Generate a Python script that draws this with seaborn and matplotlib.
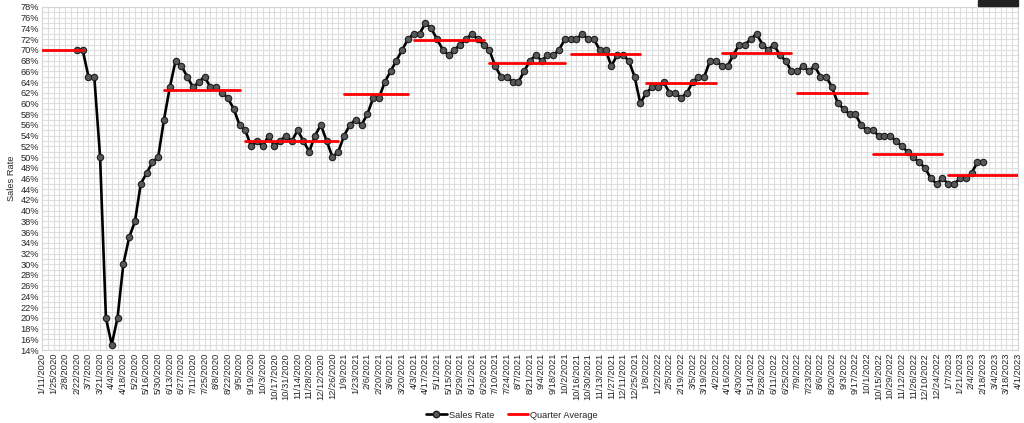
import matplotlib
matplotlib.use('Agg')
import matplotlib.pyplot as plt
import matplotlib.ticker as mticker
from matplotlib.patches import Rectangle
from matplotlib.lines import Line2D
import seaborn as sns
import pandas as pd

# weekly sales rate, first reading on 2/22/2020
first_week = '2020-02-22'
sales_rate = [70, 70, 65, 65, 50, 20, 15, 20, 30, 35, 38, 45, 47, 49, 50, 57, 63, 68, 67, 65,
              63, 64, 65, 63, 63, 62, 61, 59, 56, 55, 52, 53, 52, 54, 52, 53, 54, 53, 55, 53,
              51, 54, 56, 53, 50, 51, 54, 56, 57, 56, 58, 61, 61, 64, 66, 68, 70, 72, 73, 73,
              75, 74, 72, 70, 69, 70, 71, 72, 73, 72, 71, 70, 67, 65, 65, 64, 64, 66, 68, 69,
              68, 69, 69, 70, 72, 72, 72, 73, 72, 72, 70, 70, 67, 69, 69, 68, 65, 60, 62, 63,
              63, 64, 62, 62, 61, 62, 64, 65, 65, 68, 68, 67, 67, 69, 71, 71, 72, 73, 71, 70,
              71, 69, 68, 66, 66, 67, 66, 67, 65, 65, 63, 60, 59, 58, 58, 56, 55, 55, 54, 54,
              54, 53, 52, 51, 50, 49, 48, 46, 45, 46, 45, 45, 46, 46, 47, 49, 49]

# category axis
axis_start = '2020-01-11'
axis_end = '2023-04-01'

# quarter average segments
qtr_start = ['2020-01-11', '2020-06-06', '2020-09-12', '2021-01-09', '2021-04-03', '2021-07-03',
             '2021-10-09', '2022-01-08', '2022-04-09', '2022-07-09', '2022-10-08', '2023-01-07']
qtr_end = ['2020-02-29', '2020-09-05', '2021-01-02', '2021-03-27', '2021-06-26', '2021-10-02',
           '2022-01-01', '2022-04-02', '2022-07-02', '2022-10-01', '2022-12-31', '2023-04-01']
qtr_avg = [70.0, 62.5, 53.0, 61.8, 71.8, 67.5, 69.2, 63.8, 69.5, 61.9, 50.6, 46.7]

sns.set_style('white')
plt.rcParams['font.family'] = ['Liberation Sans', 'DejaVu Sans']

weeks = pd.date_range(first_week, periods=len(sales_rate), freq='7D')
sales = pd.DataFrame({'week': weeks, 'rate': sales_rate})

rows = []
for i, (s, e, v) in enumerate(zip(qtr_start, qtr_end, qtr_avg)):
    rows += [(i, pd.Timestamp(s), v), (i, pd.Timestamp(e), v)]
qdf = pd.DataFrame(rows, columns=['q', 'week', 'avg'])

fig = plt.figure(figsize=(10.24, 4.23), dpi=100)
ax = fig.add_axes([42 / 1024, 1 - 350 / 423, 976 / 1024, 343 / 423])

sns.lineplot(data=sales, x='week', y='rate', ax=ax, color='black', lw=1.9,
             marker='o', markersize=4.6, markerfacecolor='#585858',
             markeredgecolor='#1e1e1e', markeredgewidth=0.8, zorder=3)
sns.lineplot(data=qdf, x='week', y='avg', units='q', estimator=None, ax=ax,
             color='#ff0000', lw=2.0, zorder=4)

major = pd.date_range(axis_start, axis_end, freq='14D')
minor = pd.date_range(axis_start, axis_end, freq='7D')
ax.set_xlim(pd.Timestamp(axis_start), pd.Timestamp(axis_end))
ax.set_xticks(major)
ax.set_xticklabels([f'{d.month}/{d.day}/{d.year}' for d in major], rotation=90, fontsize=6.7)
ax.set_xticks(minor, minor=True)

ax.set_ylim(14, 78)
ax.set_yticks(range(14, 79, 2))
ax.set_yticks(range(14, 79, 1), minor=True)
ax.yaxis.set_major_formatter(mticker.PercentFormatter(decimals=0))
ax.tick_params(axis='y', labelsize=6.7)
ax.tick_params(which='both', length=0, pad=2)

ax.grid(which='both', color='#dedede', lw=0.8)
ax.set_axisbelow(True)
for sp in ax.spines.values():
    sp.set_color('#d4d4d4')

ax.set_xlabel('')
ax.set_ylabel('Sales Rate', fontsize=6.7, labelpad=3)

handles = [Line2D([], [], color='black', lw=1.9, marker='o', markersize=4.6,
                  markerfacecolor='#585858', markeredgecolor='#1e1e1e'),
           Line2D([], [], color='#ff0000', lw=2.0)]
fig.legend(handles, ['Sales Rate', 'Quarter Average'], loc='center',
           bbox_to_anchor=(0.5, 1 - 415 / 423), ncol=2, frameon=False,
           fontsize=6.7, handlelength=2.2, handletextpad=0.2, columnspacing=1.5)

fig.patches.append(Rectangle((978 / 1024, 1 - 6 / 423), 40 / 1024, 6 / 423,
                             transform=fig.transFigure, color='#222222'))

fig.savefig('out.png', dpi=100)
